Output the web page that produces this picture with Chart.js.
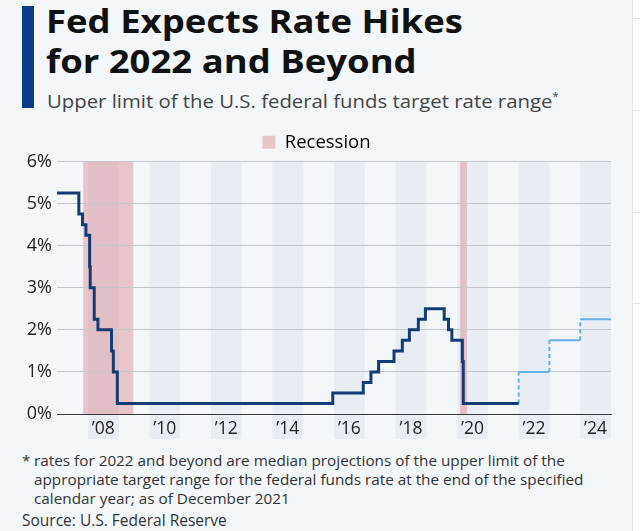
<!DOCTYPE html>
<html>
<head>
<meta charset="utf-8">
<script src="https://cdn.jsdelivr.net/npm/chart.js@4.4.1/dist/chart.umd.min.js"></script>
<style>
  html, body { margin: 0; padding: 0; }
  body {
    width: 640px; height: 531px; position: relative; overflow: hidden;
    background: #f4f7fa; font-family: 'Open Sans', sans-serif; color: #111;
  }
  .edge { position: absolute; left: 632px; top: 0; width: 8px; height: 531px; background: #fcfdfe; border-left: 1px solid #e3e6ea; }
  .edge i { position: absolute; left: 0; width: 8px; height: 1px; background: #e3e6ea; }
  .bar { position: absolute; left: 22px; top: 6px; width: 12px; height: 102px; background: #0b3c87; }
  .title { position: absolute; left: 46px; top: 1px; font-weight: 700; font-size: 32px; line-height: 40px; color: #111; white-space: nowrap; transform: scaleX(1.14); transform-origin: 0 0; }
  .subtitle { position: absolute; left: 47px; top: 89px; font-size: 19px; line-height: 24px; color: #444; white-space: nowrap; transform: scaleX(1.07); transform-origin: 0 0; }
  .subtitle sup { font-size: 11px; vertical-align: 8px; line-height: 0; }
  #wrap { position: absolute; left: 0; top: 123px; width: 640px; height: 326px; }
  .note { position: absolute; left: 22px; top: 451px; font-size: 15.3px; line-height: 19px; color: #333; white-space: nowrap; }
  .note span { display: inline-block; width: 12px; }
  .source { position: absolute; left: 22px; top: 511px; font-size: 15.5px; line-height: 19px; color: #333; }
</style>
</head>
<body>
<div class="edge"><i style="top:18px"></i><i style="top:110px"></i><i style="top:212px"></i><i style="top:303px"></i></div>
<div class="bar"></div>
<div class="title">Fed Expects Rate Hikes<br>for 2022 and Beyond</div>
<div class="subtitle">Upper limit of the U.S. federal funds target rate range<sup>*</sup></div>
<div id="wrap"><canvas id="rateChart"></canvas></div>
<div class="note"><span>*</span>rates for 2022 and beyond are median projections of the upper limit of the<br><span></span>appropriate target range for the federal funds rate at the end of the specified<br><span></span>calendar year; as of December 2021</div>
<div class="source">Source: U.S. Federal Reserve</div>

<script>
// rate changes (decimal year, new upper limit in %)
const changeDates = [2007.0, 2007.71, 2007.83, 2007.94, 2008.06, 2008.08, 2008.21, 2008.33,
  2008.77, 2008.83, 2008.96, 2015.96, 2016.95, 2017.20, 2017.45, 2017.95, 2018.22, 2018.45,
  2018.74, 2018.97, 2019.58, 2019.72, 2019.83, 2020.17, 2020.20, 2022.0];
const changeRates = [5.25, 4.75, 4.5, 4.25, 3.5, 3.0, 2.25, 2.0,
  1.5, 1.0, 0.25, 0.5, 0.75, 1.0, 1.25, 1.5, 1.75, 2.0,
  2.25, 2.5, 2.25, 2.0, 1.75, 1.25, 0.25, 0.25];

// FOMC projections (end of year)
const projYears = [2022, 2023, 2024];
const projRates = [1.0, 1.75, 2.25];

// recessions (start, end)
const recessionStart = [2007.85, 2020.1];
const recessionEnd = [2009.48, 2020.32];

const shadedYears = [2008, 2010, 2012, 2014, 2016, 2018, 2020, 2022, 2024];
const labelYears = [2008, 2010, 2012, 2014, 2016, 2018, 2020, 2022, 2024];
const yTicks = [0, 1, 2, 3, 4, 5, 6];

const xMin = 2007, xMax = 2025;

const actualPts = changeDates.map((d, i) => ({ x: d, y: changeRates[i] }));

// projection: vertical jump at the start of each year, then flat
const projPts = [];
let prev = changeRates[changeRates.length - 1];
projYears.forEach((yr, i) => {
  projPts.push({ x: yr, y: prev });
  projPts.push({ x: yr, y: projRates[i] });
  prev = projRates[i];
});
projPts.push({ x: xMax, y: prev });

const bandPlugin = {
  id: 'bands',
  beforeDraw(chart) {
    const { ctx, chartArea, scales: { x } } = chart;
    ctx.save();
    ctx.fillStyle = '#e8edf4';
    shadedYears.forEach(yr => {
      const a = x.getPixelForValue(yr);
      const b = x.getPixelForValue(yr + 1);
      ctx.fillRect(a, chartArea.top, b - a, chartArea.bottom - chartArea.top + 25);
    });
    ctx.fillStyle = 'rgba(215,135,145,0.45)';
    recessionStart.forEach((s, i) => {
      const a = x.getPixelForValue(s);
      const b = x.getPixelForValue(recessionEnd[i]);
      ctx.fillRect(a, chartArea.top, b - a, chartArea.bottom - chartArea.top);
    });
    ctx.restore();
  }
};

new Chart(document.getElementById('rateChart'), {
  type: 'line',
  data: {
    datasets: [
      {
        label: 'Rate',
        data: actualPts,
        stepped: 'before',
        borderColor: '#153b75',
        borderWidth: 3,
        pointRadius: 0,
        fill: false
      },
      {
        label: 'Projection',
        data: projPts,
        borderColor: '#6aaee6',
        borderWidth: 2,
        pointRadius: 0,
        fill: false,
        segment: {
          borderDash: ctx => ctx.p0.parsed.x === ctx.p1.parsed.x ? [4, 3] : undefined
        }
      }
    ]
  },
  options: {
    responsive: true,
    maintainAspectRatio: false,
    animation: false,
    layout: { padding: { left: 22, right: 29, top: 0, bottom: 0 } },
    plugins: {
      tooltip: { enabled: false },
      legend: {
        position: 'top',
        labels: {
          boxWidth: 13,
          boxHeight: 13,
          padding: 10,
          color: '#222',
          font: { family: 'Open Sans', size: 18.5 },
          generateLabels: () => [{
            text: 'Recession',
            fillStyle: '#e7c4ca',
            strokeStyle: '#e7c4ca',
            lineWidth: 0
          }]
        }
      }
    },
    scales: {
      x: {
        type: 'linear',
        min: xMin,
        max: xMax,
        afterBuildTicks: s => { s.ticks = labelYears.map(y => ({ value: y + 0.5 })); },
        afterFit: s => { s.height = 35; },
        grid: { display: false, drawTicks: false },
        border: { display: true, color: '#3a3a3a', width: 1 },
        ticks: {
          autoSkip: false,
          maxRotation: 0,
          padding: 5,
          color: '#222',
          font: { family: 'Open Sans', size: 17.5 },
          callback: v => '\u2019' + String(Math.floor(v)).slice(2)
        }
      },
      y: {
        min: 0,
        max: 6,
        afterBuildTicks: s => { s.ticks = yTicks.map(v => ({ value: v })); },
        afterFit: s => { s.width = 35; },
        grid: {
          drawTicks: false,
          color: ctx => ctx.tick.value === 0 ? '#3a3a3a' : '#c3c6cb',
          lineWidth: 1
        },
        border: { display: false },
        ticks: {
          padding: 5,
          color: '#222',
          font: { family: 'Open Sans', size: 18 },
          callback: v => v + '%'
        }
      }
    }
  },
  plugins: [bandPlugin]
});
</script>
</body>
</html>
